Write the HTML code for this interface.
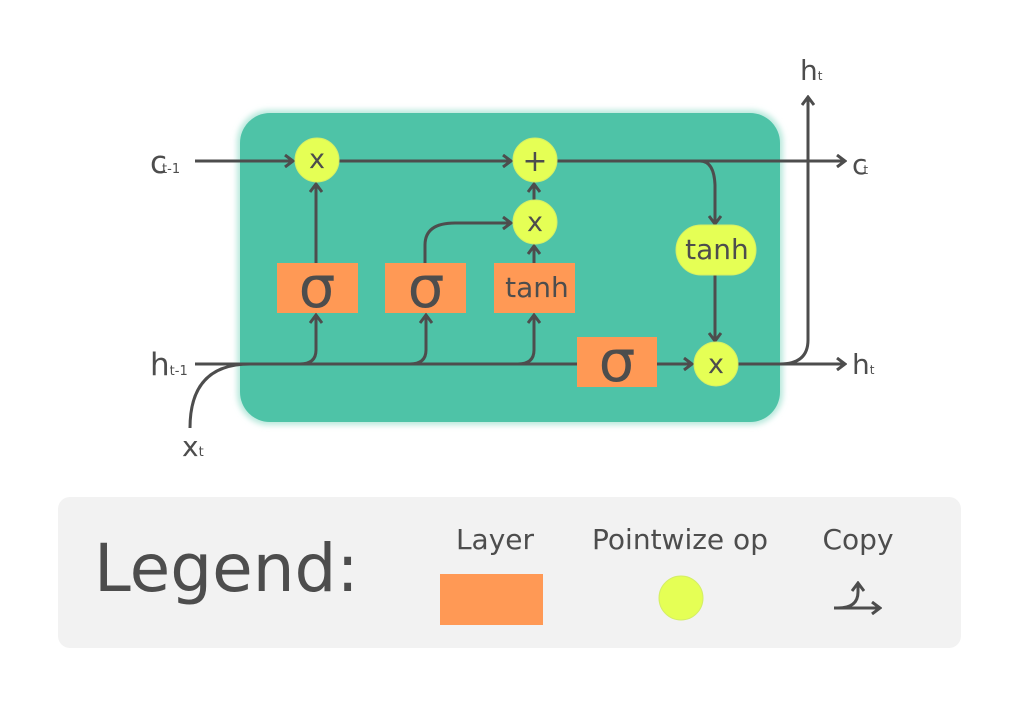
<!DOCTYPE html>
<html><head><meta charset="utf-8"><style>
html,body{margin:0;padding:0;background:#fff;}
svg{display:block;}
text{font-family:"DejaVu Sans","Liberation Sans",sans-serif;fill:#4d4d4d;}
</style></head><body>
<svg width="1024" height="701" viewBox="0 0 1024 701" xmlns="http://www.w3.org/2000/svg">
<defs>
<filter id="glow" x="-10%" y="-10%" width="120%" height="120%"><feGaussianBlur stdDeviation="3"/></filter>
<marker id="ar" markerWidth="12" markerHeight="14" refX="10" refY="7" orient="auto" markerUnits="userSpaceOnUse">
<path d="M2,1 L10,7 L2,13" fill="none" stroke="#4d4d4d" stroke-width="3"/>
</marker>
</defs>
<rect x="237" y="110" width="546" height="315" rx="32" fill="#b8e8dc" filter="url(#glow)"/>
<rect x="240" y="113" width="540" height="309" rx="30" fill="#4ec3a7"/>

<g stroke="#4d4d4d" stroke-width="3" fill="none">
<line x1="195" y1="161" x2="293" y2="161" marker-end="url(#ar)"/>
<line x1="339" y1="161" x2="511" y2="161" marker-end="url(#ar)"/>
<line x1="557" y1="161" x2="845" y2="161" marker-end="url(#ar)"/>
<path d="M700,161 Q714,161 715,185 L715,224" marker-end="url(#ar)"/>
<path d="M195,364 L577,364"/>
<path d="M190,428 Q190,364 250,364"/>
<path d="M300,364 Q316,364 316,350 L316,315" marker-end="url(#ar)"/>
<path d="M410,364 Q426,364 426,350 L426,315" marker-end="url(#ar)"/>
<path d="M518,364 Q534,364 534,350 L534,315" marker-end="url(#ar)"/>
<line x1="657" y1="364" x2="692" y2="364" marker-end="url(#ar)"/>
<line x1="316" y1="263" x2="316" y2="184" marker-end="url(#ar)"/>
<line x1="534" y1="263" x2="534" y2="246" marker-end="url(#ar)"/>
<line x1="534" y1="200" x2="534" y2="184" marker-end="url(#ar)"/>
<path d="M425,263 L425,245 Q425,223 455,223 L511,223" marker-end="url(#ar)"/>
<line x1="715" y1="275" x2="715" y2="341" marker-end="url(#ar)"/>
<line x1="738" y1="364" x2="845" y2="364" marker-end="url(#ar)"/>
<path d="M780,364 Q808,364 808,340 L808,97" marker-end="url(#ar)"/>
</g>

<g fill="#ff9955">
<rect x="277" y="263" width="81" height="50"/>
<rect x="385" y="263" width="81" height="50"/>
<rect x="494" y="263" width="81" height="50"/>
<rect x="577" y="337" width="80" height="50"/>
</g>
<g font-size="58" text-anchor="middle">
<text x="317" y="307">σ</text>
<text x="426" y="307">σ</text>
<text x="617" y="381">σ</text>
</g>
<text x="537" y="297" font-size="28" text-anchor="middle">tanh</text>

<g fill="#e5ff55" stroke="#d4ee66" stroke-width="1">
<circle cx="317" cy="160" r="22"/>
<circle cx="535" cy="160" r="22"/>
<circle cx="535" cy="222" r="22"/>
<circle cx="716" cy="364" r="22"/>
<rect x="676" y="225" width="80" height="50" rx="25"/>
</g>
<g font-size="27" text-anchor="middle">
<text x="317" y="168">x</text>
<text x="535" y="231">x</text>
<text x="716" y="373">x</text>
<text x="535" y="171" font-size="30">+</text>
<text x="717" y="259" font-size="28">tanh</text>
</g>

<text x="150" y="173" font-size="31">c<tspan font-size="13" dx="-5">t-1</tspan></text>
<text x="150" y="375" font-size="31">h<tspan font-size="13">t-1</tspan></text>
<text x="182" y="456" font-size="28">x<tspan font-size="13">t</tspan></text>
<text x="800" y="80" font-size="28">h<tspan font-size="12">t</tspan></text>
<text x="852" y="174" font-size="28">c<tspan font-size="12" dx="-4">t</tspan></text>
<text x="852" y="374" font-size="28">h<tspan font-size="12">t</tspan></text>

<rect x="58" y="497" width="903" height="151" rx="12" fill="#f2f2f2"/>
<text x="94" y="591" font-size="66">Legend:</text>
<text x="495" y="549" font-size="28" text-anchor="middle">Layer</text>
<text x="680" y="549" font-size="28" text-anchor="middle">Pointwize op</text>
<text x="858" y="549" font-size="28" text-anchor="middle">Copy</text>
<rect x="440" y="574" width="103" height="51" fill="#ff9955"/>
<circle cx="681" cy="598" r="22" fill="#e5ff55" stroke="#d4ee66"/>
<g stroke="#4d4d4d" stroke-width="3" fill="none">
<line x1="834" y1="608" x2="880" y2="608" marker-end="url(#ar)"/>
<path d="M838,608 Q858,608 858,592 L858,583" marker-end="url(#ar)"/>
</g>
</svg>
</body></html>
